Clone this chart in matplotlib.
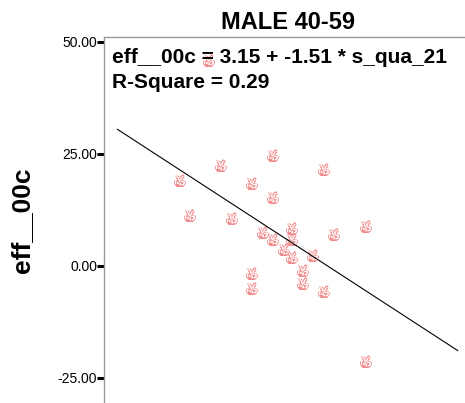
import matplotlib
matplotlib.use("Agg")
import matplotlib.pyplot as plt
import matplotlib.font_manager as fm
from matplotlib.ft2font import FT2Font
from matplotlib.path import Path
import numpy as np

plt.rcParams["font.family"] = ["Liberation Sans", "DejaVu Sans"]

# 데이터
x_vals = [-12.21, -11.25, -9.33, -8.27, -7.21, -5.29, -5.29, -5.29, -4.23,
          -3.27, -3.27, -3.27, -2.21, -1.44, -1.44, -1.44, -0.38, -0.38,
          0.58, 1.63, 1.63, 2.60, 5.67, 5.67]
y_vals = [18.97, 11.16, 45.76, 22.32, 10.49, 18.30, -1.79, -5.13, 7.37,
          24.55, 15.18, 5.80, 3.57, 8.26, 5.80, 1.79, -1.12, -4.02,
          2.23, 21.43, -5.80, 6.92, 8.71, -21.43]
intercept = 3.15
slope = -1.51
r_square = 0.29
fit_range = [-18.1, 14.6]
y_ticks = [50, 25, 0, -25]

MARK_COLOR = "#f28b8b"

# ✌ 글리프가 있는 폰트 찾기
glyph_font = None
for fname in fm.findSystemFonts():
    try:
        if 0x270C in FT2Font(fname).get_charmap():
            glyph_font = fname
            break
    except Exception:
        continue

fig = plt.figure(figsize=(4.65, 4.03), dpi=100)
ax = fig.add_axes([104 / 465, 0, 361 / 465, 366 / 403])
ax.set_xlim(-19.4, 15.3)
ax.set_ylim(-30.6, 51.1)

# 점 (✌ 마커)
if glyph_font:
    prop = fm.FontProperties(fname=glyph_font, size=9)
    for x, y in zip(x_vals, y_vals):
        ax.text(x, y, "\u270C", fontproperties=prop, color=MARK_COLOR,
                ha="center", va="center", zorder=2)
else:
    # 글리프가 없으면 V자 손 모양 경로로 대체
    fingers = Path([(-0.45, 1.0), (-0.1, -0.1), (0.45, 1.0), (0.1, -0.1)],
                   [Path.MOVETO, Path.LINETO, Path.MOVETO, Path.LINETO])
    circle = Path.circle((0, -0.45), 0.38)
    hand = Path.make_compound_path(fingers, circle)
    ax.plot(x_vals, y_vals, linestyle="none", marker=hand, markersize=11,
            markerfacecolor="none", markeredgecolor=MARK_COLOR,
            markeredgewidth=1.0, zorder=2)

# 회귀선
xs = np.array(fit_range)
ax.plot(xs, intercept + slope * xs, color="black", linewidth=0.8, zorder=3)

# 축 스타일
for side in ["right", "bottom"]:
    ax.spines[side].set_visible(False)
for side in ["left", "top"]:
    ax.spines[side].set_color("#999999")
    ax.spines[side].set_linewidth(1.0)
ax.set_xticks([])
ax.set_yticks(y_ticks)
ax.set_yticklabels([f"{t:.2f}" for t in y_ticks])
ax.tick_params(axis="y", direction="out", length=5, width=2.2,
               color="black", labelsize=10, pad=0)

ax.set_ylabel("eff__00c", fontsize=19, fontweight="bold", labelpad=17)
ax.set_title("MALE 40-59", fontsize=17, fontweight="bold", pad=6, x=0.51)

ax.text(8 / 361, 1 - 26 / 366,
        f"eff__00c = {intercept:.2f} + {slope:.2f} * s_qua_21",
        transform=ax.transAxes, fontsize=15, fontweight="bold",
        va="baseline", ha="left", zorder=4)
ax.text(8 / 361, 1 - 51 / 366, f"R-Square = {r_square:.2f}",
        transform=ax.transAxes, fontsize=15, fontweight="bold",
        va="baseline", ha="left", zorder=4)

fig.savefig("out.png", dpi=100)
